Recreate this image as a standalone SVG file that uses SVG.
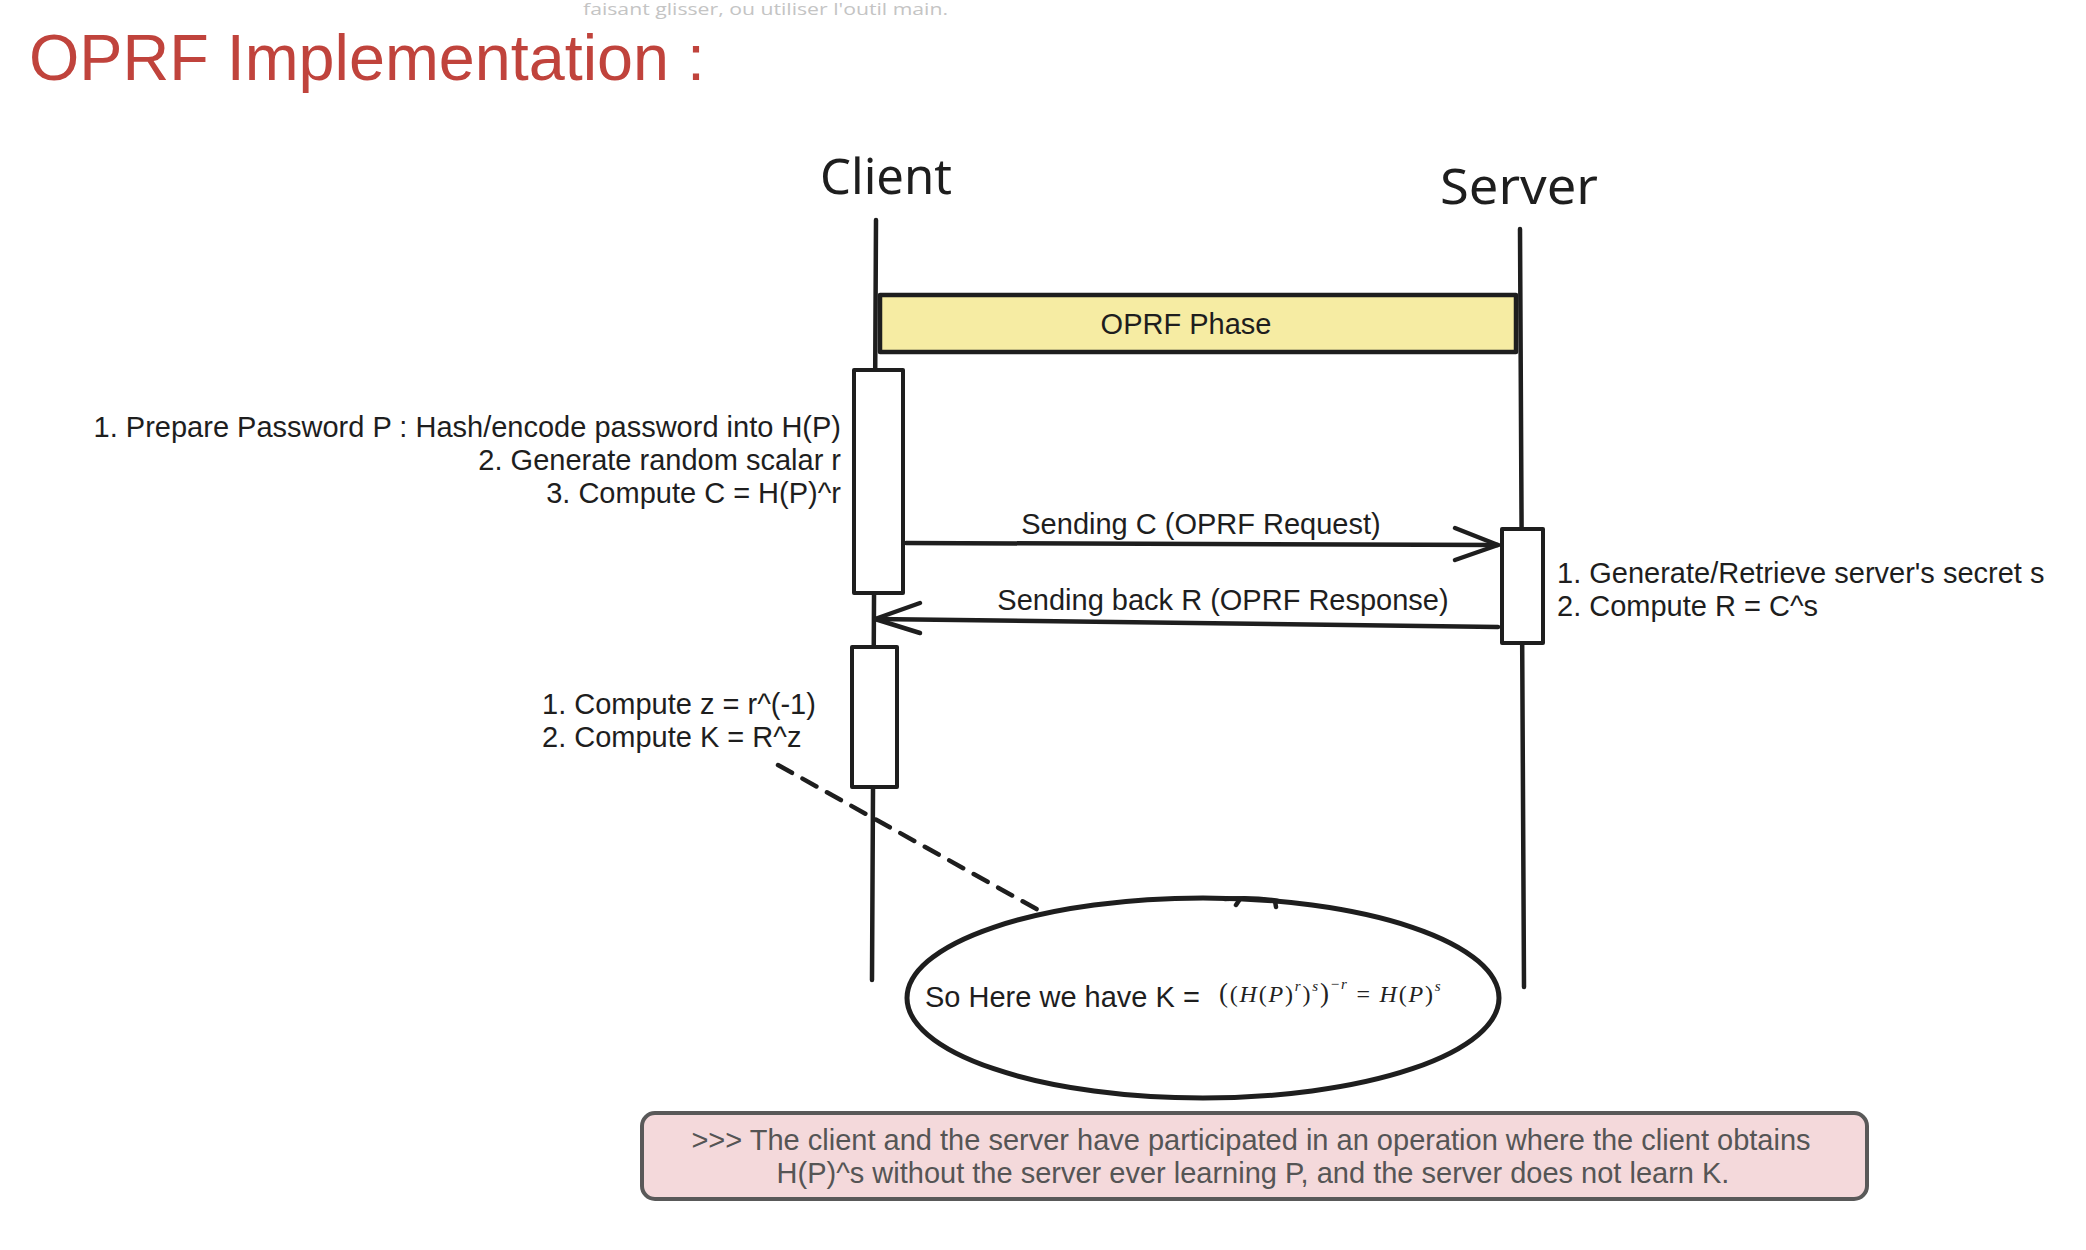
<svg xmlns="http://www.w3.org/2000/svg" width="2086" height="1250" viewBox="0 0 2086 1250">
<defs>
<style>
.t{font-family:"Liberation Sans",Arial,sans-serif;font-size:29px;fill:#1e1e1e}
.hand{font-family:"Noto Sans","DejaVu Sans",sans-serif;font-size:49px;fill:#1e1e1e}
.ln{fill:none;stroke:#1e1e1e;stroke-width:4.5;stroke-linecap:round;stroke-linejoin:round}
.box{fill:#ffffff;stroke:#1e1e1e;stroke-width:4;stroke-linejoin:round}
.m{font-family:"Liberation Serif","Times New Roman",serif;font-size:24px;fill:#222;letter-spacing:1.8px}
</style>
</defs>
<rect width="2086" height="1250" fill="#ffffff"/>
<text x="583" y="15" font-family="Open Sans, sans-serif" font-size="17" fill="#c4c4c4" textLength="365" lengthAdjust="spacingAndGlyphs">faisant glisser, ou utiliser l'outil main.</text>
<text x="29" y="80" font-family="Liberation Sans, Arial, sans-serif" font-size="65" fill="#c0433c" textLength="676" lengthAdjust="spacingAndGlyphs">OPRF Implementation :</text>

<g id="lifelines">
<path class="ln" d="M876 220 L872 980"/>
<path class="ln" d="M1520 229 L1524 987"/>
</g>

<g id="client">
<text class="hand" x="820" y="194" textLength="132" lengthAdjust="spacingAndGlyphs">Client</text>
</g>
<g id="server">
<text class="hand" x="1440" y="204" textLength="158" lengthAdjust="spacingAndGlyphs">Server</text>
</g>

<g id="oprf-phase">
<rect x="880" y="295" width="636" height="57" fill="#f6eca3" stroke="#1e1e1e" stroke-width="4.5" stroke-linejoin="round"/>
<text class="t" x="1186" y="334" text-anchor="middle">OPRF Phase</text>
</g>

<g id="client-act1">
<rect class="box" x="854" y="370" width="49" height="223"/>
<text class="t" text-anchor="end"><tspan x="841" y="437">1. Prepare Password P : Hash/encode password into H(P)</tspan><tspan x="841" y="470">2. Generate random scalar r</tspan><tspan x="841" y="503">3. Compute C = H(P)^r</tspan></text>
</g>

<g id="server-act">
<rect class="box" x="1502" y="529" width="41" height="114"/>
<text class="t"><tspan x="1557" y="583">1. Generate/Retrieve server's secret s</tspan><tspan x="1557" y="616">2. Compute R = C^s</tspan></text>
</g>

<g id="client-act2">
<rect class="box" x="852" y="647" width="45" height="140"/>
<text class="t"><tspan x="542" y="714">1. Compute z = r^(-1)</tspan><tspan x="542" y="747">2. Compute K = R^z</tspan></text>
</g>

<g id="result">
<ellipse cx="1203" cy="998" rx="296" ry="100" fill="none" stroke="#1e1e1e" stroke-width="5"/>
<path class="ln" d="M1225 899 Q1255 897 1278 901 M1240 899 L1236 905 M1275 901 L1276 907" stroke-width="3.5"/>
<text class="t" x="925" y="1007">So Here we have K =</text>
<text class="m" x="1219" y="1002"><tspan font-size="27">(</tspan>(<tspan font-style="italic">H</tspan>(<tspan font-style="italic">P</tspan>)<tspan font-size="15" font-style="italic" dy="-11">r</tspan><tspan dy="11">)</tspan><tspan font-size="15" font-style="italic" dy="-11">s</tspan><tspan font-size="27" dy="11">)</tspan><tspan font-size="15" dy="-13">−<tspan font-style="italic">r</tspan></tspan><tspan dy="13"> = </tspan><tspan font-style="italic">H</tspan>(<tspan font-style="italic">P</tspan>)<tspan font-size="15" font-style="italic" dy="-11">s</tspan></text>
</g>

<g id="connectors">
<path class="ln" d="M906 543 L1498 545"/>
<path class="ln" d="M1455 528 L1498 545 L1455 560"/>
<text class="t" x="1201" y="534" text-anchor="middle">Sending C (OPRF Request)</text>
<path class="ln" d="M1498 627 L875 619"/>
<path class="ln" d="M920 603 L875 619 L920 633"/>
<text class="t" x="1223" y="610" text-anchor="middle">Sending back R (OPRF Response)</text>
<path class="ln" d="M778 765 L1040 911" stroke-dasharray="16 12"/>
</g>

<g id="note">
<rect x="642" y="1113" width="1225" height="86" rx="13" fill="#f4d9db" stroke="#595959" stroke-width="4"/>
<text class="t" style="fill:#555555" text-anchor="middle"><tspan x="1251" y="1150">&gt;&gt;&gt; The client and the server have participated in an operation where the client obtains</tspan><tspan x="1253" y="1183">H(P)^s without the server ever learning P, and the server does not learn K.</tspan></text>
</g>
</svg>
